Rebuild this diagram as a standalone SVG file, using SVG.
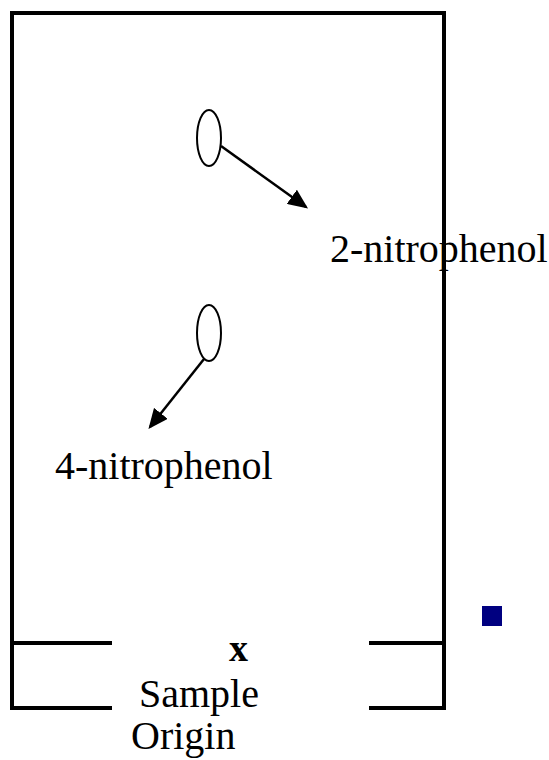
<svg xmlns="http://www.w3.org/2000/svg" width="549" height="760" viewBox="0 0 549 760">
<style>
.frame{fill:none;stroke:#000;stroke-width:4;stroke-linecap:square}
.spot{fill:#fff;stroke:#000;stroke-width:2}
.arr{stroke:#000;stroke-width:2.5;fill:none}
.lbl{font-family:"Liberation Serif","Times New Roman",serif;font-size:40px;fill:#000}
</style>
<defs>
<marker id="ah" markerWidth="8" markerHeight="7" refX="7" refY="3.5" orient="auto" markerUnits="strokeWidth">
<path d="M0,0 L8,3.5 L0,7 Z" fill="#000"/>
</marker>
</defs>
<g id="plate">
<path class="frame" d="M110,708 L12,708 L12,13 L444,13 L444,708 L371,708"/>
<line class="frame" x1="12" y1="643" x2="110" y2="643"/>
<line class="frame" x1="371" y1="643" x2="444" y2="643"/>
</g>
<g id="spot-2-nitrophenol">
<ellipse class="spot" cx="209" cy="138" rx="12" ry="28"/>
</g>
<g id="spot-4-nitrophenol">
<ellipse class="spot" cx="209" cy="333" rx="12" ry="28"/>
</g>
<g id="connectors">
<line class="arr" x1="221" y1="146" x2="306" y2="207" marker-end="url(#ah)"/>
<line class="arr" x1="204" y1="359" x2="150" y2="427" marker-end="url(#ah)"/>
</g>
<g id="label-2-nitrophenol">
<text class="lbl" x="330" y="262">2-nitrophenol</text>
</g>
<g id="label-4-nitrophenol">
<text class="lbl" x="55" y="479">4-nitrophenol</text>
</g>
<g id="sample-origin">
<text x="229" y="661" style="font-family:'Liberation Serif','Times New Roman',serif;font-size:38px;font-weight:bold">x</text>
<text class="lbl" x="139" y="707">Sample</text>
<text class="lbl" x="131" y="749">Origin</text>
</g>
<rect id="marker-square" x="482" y="606" width="20" height="20" fill="#000080"/>
</svg>
